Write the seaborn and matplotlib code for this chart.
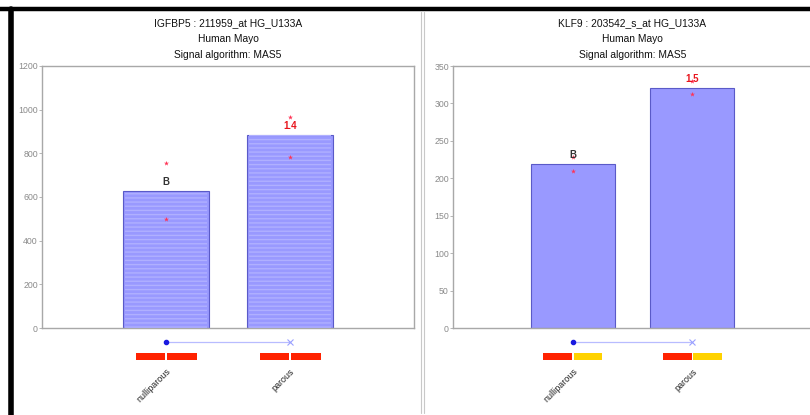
import matplotlib.pyplot as plt
import matplotlib.transforms as mtransforms
from matplotlib.patches import Rectangle
from matplotlib.lines import Line2D
import seaborn as sns

groups = ['nulliparous', 'parous']

igfbp5_title = 'IGFBP5 : 211959_at HG_U133A\nHuman Mayo\nSignal algorithm: MAS5'
igfbp5_signal = [627, 885]
igfbp5_points = [[754, 497], [968, 784]]
igfbp5_labels = ['B', '1.4']
igfbp5_ticks = [0, 200, 400, 600, 800, 1000, 1200]
igfbp5_strip = [['#ff2200', '#ff2200'], ['#ff2200', '#ff2200']]

klf9_title = 'KLF9 : 203542_s_at HG_U133A\nHuman Mayo\nSignal algorithm: MAS5'
klf9_signal = [219, 321]
klf9_points = [[228, 210], [330, 312]]
klf9_labels = ['B', '1.5']
klf9_ticks = [0, 50, 100, 150, 200, 250, 300, 350]
klf9_strip = [['#ff2200', '#ffd200'], ['#ff2200', '#ffd200']]

label_colors = ['#333333', '#e8141c']

sns.set_style('white')
plt.rcParams['font.family'] = ['Liberation Sans', 'DejaVu Sans']


def draw_panel(ax, title, signal, points, labels, ticks, strip, textured):
    sns.barplot(x=groups, y=signal, ax=ax, color='#9999ff', saturation=1,
                width=0.7, edgecolor='#5a5ac8', linewidth=0.8, zorder=2)
    if textured:
        ax.bar(range(len(groups)), signal, width=0.66, fill=False,
               hatch='----', edgecolor='#b0b0ff', linewidth=0, zorder=3)
    for i, vals in enumerate(points):
        sns.scatterplot(x=[i] * len(vals), y=vals, ax=ax, marker='*', s=14,
                        color='#ff3355', linewidth=0, zorder=4)
        ax.annotate(labels[i], (i, signal[i]), xytext=(0, 3), textcoords='offset points',
                    ha='center', va='bottom', fontsize=7, fontweight='bold',
                    color=label_colors[i], zorder=5)

    ax.set_xlim(-1, 2)
    ax.set_ylim(0, ticks[-1])
    ax.set_yticks(ticks)
    ax.tick_params(axis='y', labelsize=6.3, labelcolor='#8a8a8a', length=2,
                   width=0.6, color='#aaaaaa', pad=1, left=True)
    ax.set_xticks(range(len(groups)))
    ax.set_xticklabels(groups, rotation=45, ha='right', rotation_mode='anchor',
                       fontsize=6.5, color='#222222')
    ax.tick_params(axis='x', length=0, pad=28)
    ax.set_xlabel('')
    ax.set_ylabel('')
    for sp in ax.spines.values():
        sp.set_color('#a8a8a8')
        sp.set_linewidth(1)
    ax.set_title(title, fontsize=7.4, linespacing=1.75, pad=6, color='#111111')

    # group markers under the axis
    trans = mtransforms.blended_transform_factory(ax.transData, ax.transAxes)
    ax.plot([0, len(groups) - 1], [-0.053, -0.053], color='#b8bcff', lw=0.9,
            transform=trans, clip_on=False)
    ax.plot([0], [-0.053], marker='o', ms=3, color='#1a1ae0', transform=trans, clip_on=False)
    ax.plot([len(groups) - 1], [-0.053], marker='x', ms=4, mew=0.8, color='#9aa0ff',
            transform=trans, clip_on=False)
    for i, cols in enumerate(strip):
        ax.add_patch(Rectangle((i - 0.245, -0.122), 0.24, 0.027, transform=trans,
                               color=cols[0], clip_on=False, lw=0))
        ax.add_patch(Rectangle((i + 0.008, -0.122), 0.24, 0.027, transform=trans,
                               color=cols[1], clip_on=False, lw=0))


fig = plt.figure(figsize=(8.1, 4.15), dpi=100)
ax1 = fig.add_axes([42 / 810, 87 / 415, 372 / 810, 262 / 415])
ax2 = fig.add_axes([453 / 810, 87 / 415, 359 / 810, 262 / 415])

draw_panel(ax1, igfbp5_title, igfbp5_signal, igfbp5_points, igfbp5_labels,
           igfbp5_ticks, igfbp5_strip, True)
draw_panel(ax2, klf9_title, klf9_signal, klf9_points, klf9_labels,
           klf9_ticks, klf9_strip, False)

# screenshot frame: black top/left edges and the panel divider
fig.add_artist(Line2D([0, 1], [1 - 9 / 415, 1 - 9 / 415], color='black', lw=3.2))
fig.add_artist(Line2D([10.5 / 810, 10.5 / 810], [0, 1 - 9 / 415], color='black', lw=4))
fig.add_artist(Line2D([421 / 810, 421 / 810], [2 / 415, 1 - 12 / 415], color='#c8c8c8', lw=0.8))
fig.add_artist(Line2D([424 / 810, 424 / 810], [2 / 415, 1 - 12 / 415], color='#c8c8c8', lw=0.8))

fig.savefig('out.png', dpi=100)
